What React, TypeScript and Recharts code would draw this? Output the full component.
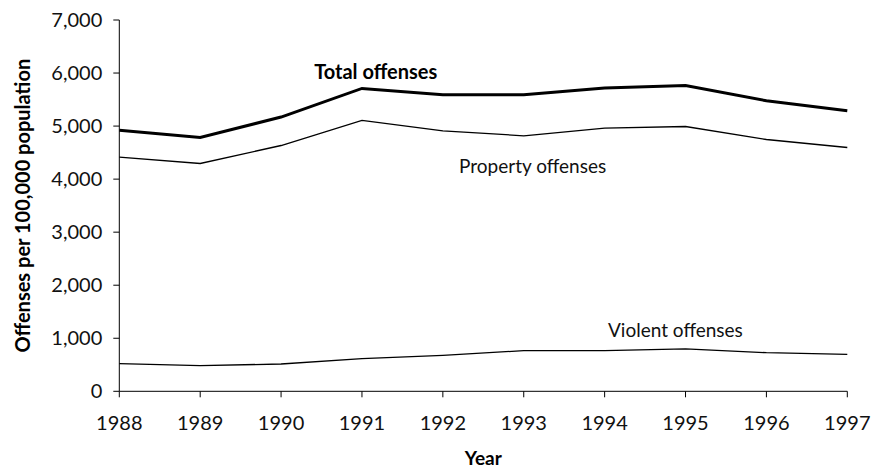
import React from 'react';
import { LineChart, Line, XAxis, YAxis, ReferenceDot } from 'recharts';

const years = [1988, 1989, 1990, 1991, 1992, 1993, 1994, 1995, 1996, 1997];
const totalOffenses = [4920, 4785, 5170, 5710, 5590, 5590, 5717, 5766, 5477, 5289];
const propertyOffenses = [4415, 4295, 4634, 5106, 4911, 4817, 4962, 4992, 4747, 4596];
const violentOffenses = [521, 483, 515, 615, 679, 766, 766, 798, 728, 698];
const yTicks = [0, 1000, 2000, 3000, 4000, 5000, 6000, 7000];

const data = years.map((year, i) => ({
  year,
  total: totalOffenses[i],
  property: propertyOffenses[i],
  violent: violentOffenses[i],
}));

const FONT = 'Lato, "Open Sans", sans-serif';
const fmt = (v: number) => v.toLocaleString('en-US');

const YTitle = (props: any) => {
  const vb = props.viewBox || {};
  const cx = (vb.x || 0) + 30;
  const cy = (vb.y || 0) + (vb.height || 0) / 2;
  return (
    <text
      x={cx}
      y={cy}
      transform={`rotate(-90, ${cx}, ${cy})`}
      textAnchor="middle"
      fontFamily={FONT}
      fontWeight="bold"
      fontSize={20}
      fill="#000"
    >
      Offenses per 100,000 population
    </text>
  );
};

export default function App() {
  return (
    <div style={{ width: 882, height: 468 }}>
      <style>{`body{margin:0;}`}</style>
      <LineChart
        width={882}
        height={468}
        data={data}
        margin={{ top: 20, right: 34.7, left: 0, bottom: 0 }}
      >
        <XAxis
          dataKey="year"
          type="number"
          domain={[1988, 1997]}
          ticks={years}
          allowDecimals={false}
          height={76.7}
          tickSize={6}
          tickMargin={18}
          axisLine={{ stroke: '#000', strokeWidth: 1 }}
          tickLine={{ stroke: '#000', strokeWidth: 1 }}
          tick={{ fill: '#111', fontSize: 20, fontFamily: FONT }}
          label={{
            value: 'Year',
            position: 'insideBottom',
            offset: 3,
            style: { fontFamily: FONT, fontWeight: 'bold', fontSize: 19, fill: '#000' },
          }}
        />
        <YAxis
          type="number"
          domain={[0, 7000]}
          ticks={yTicks}
          width={119.3}
          tickSize={6}
          tickMargin={11}
          tickFormatter={fmt}
          axisLine={{ stroke: '#000', strokeWidth: 1 }}
          tickLine={{ stroke: '#000', strokeWidth: 1 }}
          tick={{ fill: '#111', fontSize: 20, fontFamily: FONT }}
          label={{ content: YTitle }}
        />
        <Line
          type="linear"
          dataKey="total"
          stroke="#000"
          strokeWidth={3}
          dot={false}
          activeDot={false}
          isAnimationActive={false}
        />
        <Line
          type="linear"
          dataKey="property"
          stroke="#000"
          strokeWidth={1.3}
          dot={false}
          activeDot={false}
          isAnimationActive={false}
        />
        <Line
          type="linear"
          dataKey="violent"
          stroke="#000"
          strokeWidth={1.3}
          dot={false}
          activeDot={false}
          isAnimationActive={false}
        />
        <ReferenceDot
          x={1991.17}
          y={6025}
          r={0}
          stroke="none"
          fill="none"
          label={{
            value: 'Total offenses',
            position: 'center',
            style: { fontFamily: FONT, fontWeight: 'bold', fontSize: 20, fill: '#000' },
          }}
        />
        <ReferenceDot
          x={1993.11}
          y={4251}
          r={0}
          stroke="none"
          fill="none"
          label={{
            value: 'Property offenses',
            position: 'center',
            style: { fontFamily: FONT, fontSize: 19, fill: '#111' },
          }}
        />
        <ReferenceDot
          x={1994.875}
          y={1157}
          r={0}
          stroke="none"
          fill="none"
          label={{
            value: 'Violent offenses',
            position: 'center',
            style: { fontFamily: FONT, fontSize: 19, fill: '#111' },
          }}
        />
      </LineChart>
    </div>
  );
}
